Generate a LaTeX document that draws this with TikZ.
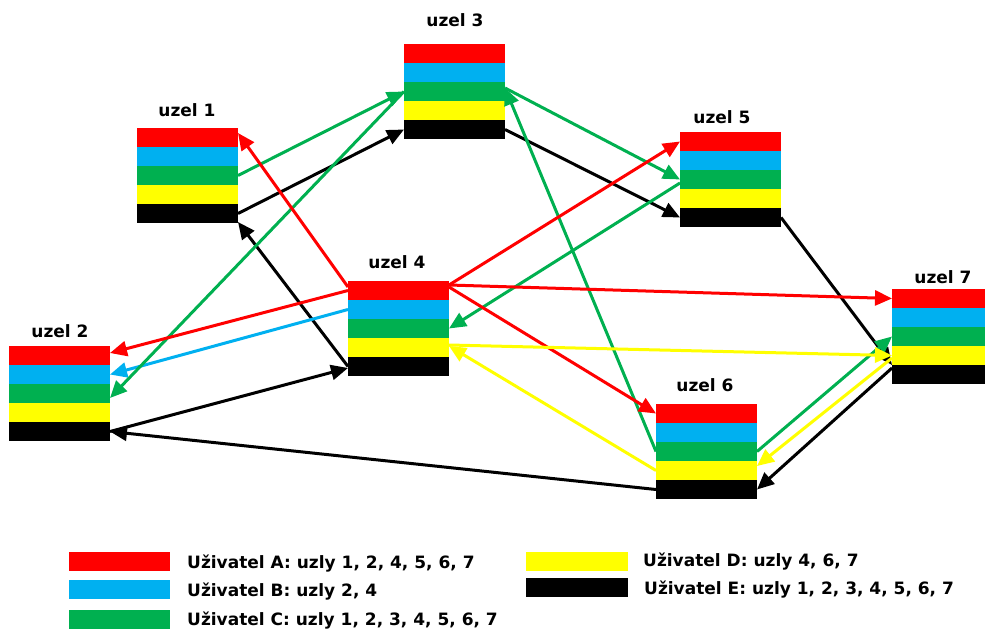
\documentclass[tikz,border=0pt]{standalone}
\usepackage{fontspec}
\setmainfont{DejaVu Sans}
\usetikzlibrary{arrows.meta}

\definecolor{cA}{HTML}{FF0000}
\definecolor{cB}{HTML}{00B0F0}
\definecolor{cC}{HTML}{00B050}
\definecolor{cD}{HTML}{FFFF00}
\definecolor{cE}{HTML}{000000}

% one stack of five user bars; #1 name prefix, #2/#3 top-left corner
\newcommand{\barstack}[3]{%
  \node[ubar, fill=cA] (#1r) at (#2,#3) {};
  \node[ubar, fill=cB] (#1b) at (#2,#3+19) {};
  \node[ubar, fill=cC] (#1g) at (#2,#3+38) {};
  \node[ubar, fill=cD] (#1y) at (#2,#3+57) {};
  \node[ubar, fill=cE] (#1k) at (#2,#3+76) {};
}

\tikzset{
  ubar/.style={anchor=north west, minimum width=101pt, minimum height=19pt,
               inner sep=0pt, outer sep=0pt, draw=none},
  lbl/.style={font=\bfseries\fontsize{17}{20}\selectfont, inner sep=0pt, anchor=base},
  legtext/.style={font=\bfseries\fontsize{17}{20}\selectfont, inner sep=0pt, anchor=base west},
  con/.style={line width=3pt, -{Triangle[length=17pt,width=15pt]}},
}

\begin{document}
\begin{tikzpicture}[x=1pt, y=-1pt]
\useasboundingbox (0,0) rectangle (985,629);

% nodes
\barstack{na}{137}{128}
\barstack{nb}{9}{346}
\barstack{nc}{404}{44}
\barstack{nd}{348}{281}
\barstack{ne}{680}{132}
\barstack{nf}{656}{404}
\barstack{ng}{892}{289}

\node[lbl] (la) at (187,116) {uzel 1};
\node[lbl] (lb) at (60,337) {uzel 2};
\node[lbl] (lc) at (455,27) {uzel 3};
\node[lbl] (ld) at (397,268) {uzel 4};
\node[lbl] (le) at (722,123) {uzel 5};
\node[lbl] (lf) at (705,391) {uzel 6};
\node[lbl] (lg) at (943,283) {uzel 7};

% user E (black)
\draw[con, cE] (nak.east) -- (nck.west);
\draw[con, cE] (nck.east) -- (nek.west);
\draw[con, cE] (nek.east) -- (ngk.north west);
\draw[con, cE] ([yshift=-3pt]ngk.north west) -- (nfk.east);
\draw[con, cE] (nfk.west) -- (nbk.east);
\draw[con, cE] (nbk.east) -- ([yshift=-1.5pt]ndk.west);
\draw[con, cE] (ndk.west) -- ([yshift=1pt]nak.south east);

% user B (blue)
\draw[con, cB] (ndb.west) -- (nbb.east);

% user C (green)
\draw[con, cC] (nag.east) -- (ncg.west);
\draw[con, cC] (ncg.west) -- ([yshift=-4.5pt]nbg.east);
\draw[con, cC] ([yshift=3.5pt]ncg.east) -- (neg.west);
\draw[con, cC] ([yshift=-3.5pt]neg.west) -- (ndg.east);
\draw[con, cC] (nfg.west) -- ([yshift=3.5pt]ncg.east);
\draw[con, cC] (nfg.east) -- (ngg.west);

% user A (red)
\draw[con, cA] ([yshift=3.5pt]ndr.west) -- ([yshift=4.5pt]nar.east);
\draw[con, cA] (ndr.west) -- ([yshift=2.5pt]nbr.east);
\draw[con, cA] ([yshift=5.5pt]ndr.east) -- (ner.west);
\draw[con, cA] ([yshift=5.5pt]ndr.east) -- (ngr.west);
\draw[con, cA] ([yshift=3.5pt]ndr.east) -- (nfr.west);

% user D (yellow)
\draw[con, cD] (nfy.west) -- ([yshift=1.5pt]ndy.east);
\draw[con, cD] ([yshift=-2.5pt]ngy.west) -- ([yshift=4.5pt]nfy.east);
\draw[con, cD] ([yshift=2.5pt]ndy.east) -- (ngy.west);

% legend
\node[ubar, fill=cA] (kA) at (69,552) {};
\node[ubar, fill=cB] (kB) at (69,580) {};
\node[ubar, fill=cC] (kC) at (69,610) {};
\node[ubar, fill=cD, minimum width=102pt] (kD) at (526,552) {};
\node[ubar, fill=cE, minimum width=102pt] (kE) at (526,578) {};

\node[legtext] (tA) at (187,568) {Uživatel A: uzly 1, 2, 4, 5, 6, 7};
\node[legtext] (tB) at (187,596) {Uživatel B: uzly 2, 4};
\node[legtext] (tC) at (187,625) {Uživatel C: uzly 1, 2, 3, 4, 5, 6, 7};
\node[legtext] (tD) at (643,566) {Uživatel D: uzly 4, 6, 7};
\node[legtext] (tE) at (644,594) {Uživatel E: uzly 1, 2, 3, 4, 5, 6, 7};
\end{tikzpicture}
\end{document}
